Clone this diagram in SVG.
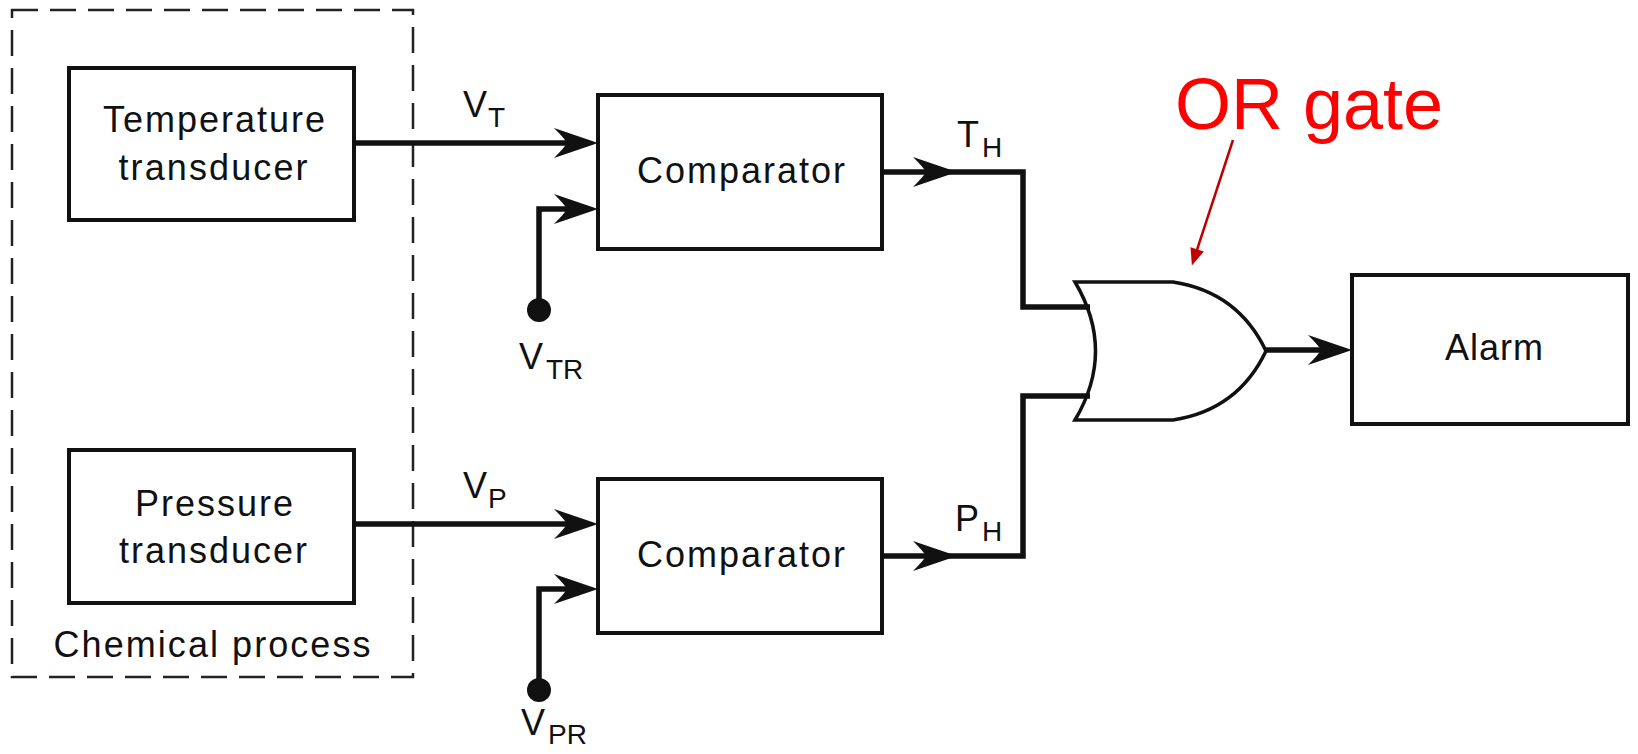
<svg xmlns="http://www.w3.org/2000/svg" width="1638" height="754" viewBox="0 0 1638 754">
<style>
  .box { fill: #fff; stroke: #111; stroke-width: 4; }
  .lbl { font-family: "Liberation Sans", Arial, sans-serif; font-size: 36px; fill: #111; }
  .sig { font-family: "Liberation Sans", Arial, sans-serif; font-size: 36px; fill: #111; }
  .sub { font-size: 28px; }
  .wire { fill: none; stroke: #111; stroke-width: 5.5; stroke-linejoin: miter; }
  .red { font-family: "Liberation Sans", Arial, sans-serif; font-size: 72px; fill: #ff0000; }
</style>
<defs>
  <marker id="arr" viewBox="-46 -17 47 34" markerWidth="47" markerHeight="34" refX="-28" refY="0" orient="auto" markerUnits="userSpaceOnUse">
    <path d="M0,0 L-44,-15 Q-33,-4 -31,0 Q-33,4 -44,15 Z" fill="#111"/>
  </marker>
  <marker id="redarr" viewBox="-18 -8 19 16" markerWidth="19" markerHeight="16" refX="-10" refY="0" orient="auto" markerUnits="userSpaceOnUse">
    <path d="M0,0 L-17,-7 L-17,7 Z" fill="#c00000"/>
  </marker>
</defs>
<rect width="1638" height="754" fill="#fff"/>

<g id="chemical-process">
  <rect x="12" y="10" width="401" height="667" fill="none" stroke="#222" stroke-width="2.5" stroke-dasharray="26 12"/>
  <text class="lbl" x="212" y="657" text-anchor="middle" textLength="317" lengthAdjust="spacing">Chemical process</text>
</g>

<g id="temperature-transducer">
  <rect class="box" x="69" y="68" width="285" height="152"/>
  <text class="lbl" x="214" y="132" text-anchor="middle" textLength="222" lengthAdjust="spacing">Temperature</text>
  <text class="lbl" x="213" y="180" text-anchor="middle" textLength="189" lengthAdjust="spacing">transducer</text>
</g>

<g id="pressure-transducer">
  <rect class="box" x="69" y="450" width="285" height="153"/>
  <text class="lbl" x="214" y="516" text-anchor="middle" textLength="158" lengthAdjust="spacing">Pressure</text>
  <text class="lbl" x="213" y="563" text-anchor="middle" textLength="188" lengthAdjust="spacing">transducer</text>
</g>

<g id="comparator-1">
  <rect class="box" x="598" y="95" width="284" height="154"/>
  <text class="lbl" x="741" y="183" text-anchor="middle" textLength="208" lengthAdjust="spacing">Comparator</text>
</g>

<g id="comparator-2">
  <rect class="box" x="598" y="479" width="284" height="154"/>
  <text class="lbl" x="741" y="567" text-anchor="middle" textLength="208" lengthAdjust="spacing">Comparator</text>
</g>

<g id="or-gate">
  <path d="M1075,282 H1173 Q1238,292 1266,351 Q1238,410 1173,420 H1075 Q1116,351 1075,282 Z" fill="#fff" stroke="#111" stroke-width="3.5"/>
</g>

<g id="alarm">
  <rect class="box" x="1352" y="275" width="276" height="149"/>
  <text class="lbl" x="1494" y="360" text-anchor="middle" textLength="98" lengthAdjust="spacing">Alarm</text>
</g>

<g id="or-gate-label">
  <text class="red" x="1175" y="129">OR gate</text>
</g>

<g id="connectors">
  <path class="wire" d="M354,143 H570" marker-end="url(#arr)"/>
  <path class="wire" d="M539,310 V209 H570" marker-end="url(#arr)"/>
  <circle cx="539" cy="310" r="12" fill="#111"/>
  <path class="wire" d="M354,524 H570" marker-end="url(#arr)"/>
  <path class="wire" d="M539,690 V589 H570" marker-end="url(#arr)"/>
  <circle cx="539" cy="690" r="12" fill="#111"/>
  <path class="wire" d="M882,172 H929" marker-end="url(#arr)"/>
  <path class="wire" d="M925,172 H1023 V307 H1090"/>
  <path class="wire" d="M882,556 H929" marker-end="url(#arr)"/>
  <path class="wire" d="M925,556 H1023 V396 H1090"/>
  <path class="wire" d="M1265,350 H1324" marker-end="url(#arr)"/>
  <path d="M1233,140 L1195,256" fill="none" stroke="#c00000" stroke-width="2.5" marker-end="url(#redarr)"/>
</g>

<g id="signal-labels">
  <text class="sig" x="463" y="117">V<tspan class="sub" x="488" y="127">T</tspan></text>
  <text class="sig" x="463" y="498">V<tspan class="sub" x="488" y="508">P</tspan></text>
  <text class="sig" x="957" y="147">T<tspan class="sub" x="982" y="157">H</tspan></text>
  <text class="sig" x="955" y="531">P<tspan class="sub" x="982" y="541">H</tspan></text>
  <text class="sig" x="519" y="369">V<tspan class="sub" x="546" y="379">TR</tspan></text>
  <text class="sig" x="521" y="735">V<tspan class="sub" x="548" y="744">PR</tspan></text>
</g>
</svg>
